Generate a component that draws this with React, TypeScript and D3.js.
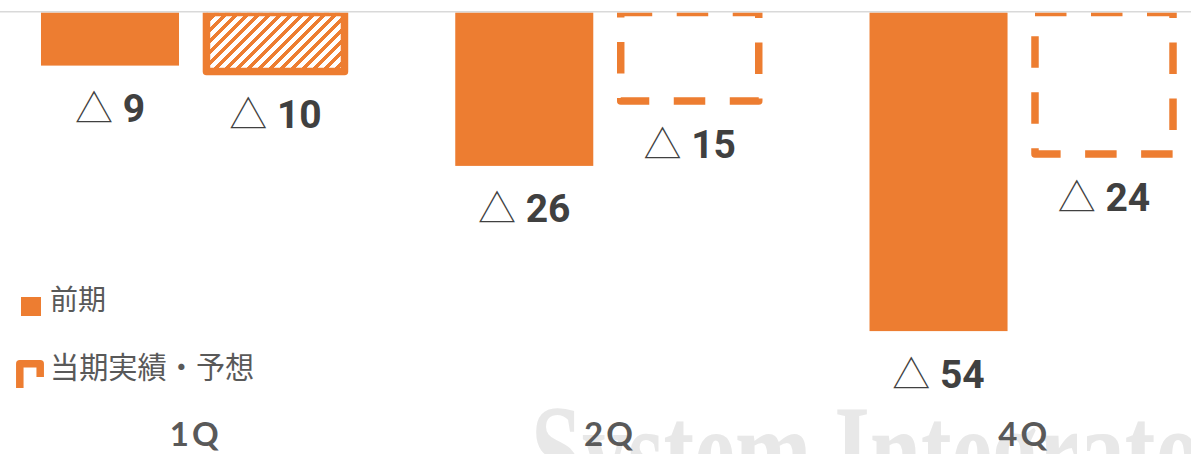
import React from "react";
import * as d3 from "d3";

const categories = ["1Q", "2Q", "4Q"];
const prevValues = [-9, -26, -54];
const currValues = [-10, -15, -24];
const currKinds = ["実績", "予想", "予想"];
const legendLabels = ["前期", "当期実績・予想"];
const watermark = "System Integrator";

const W = 1191;
const H = 454;
const ORANGE = "#ED7D31";
const NUM_COLOR = "#404040";
const TEXT_COLOR = "#595959";

export default function App() {
  const x0 = d3
    .scaleBand<string>()
    .domain(categories)
    .range([-14.4, 1228.4])
    .paddingInner(0.2674)
    .paddingOuter(0.1337);
  const x1 = d3
    .scaleBand<string>()
    .domain(["prev", "curr"])
    .range([0, x0.bandwidth()])
    .paddingInner(0.1659)
    .paddingOuter(0);
  const y = d3.scaleLinear().domain([0, -60]).range([12.5, 12.5 + 5.9 * 60]);
  const bw = x1.bandwidth();

  const label = (cx: number, v: number, key: string) => (
    <text
      key={key}
      x={cx}
      y={y(v) + 56.5}
      textAnchor="middle"
      fill={NUM_COLOR}
    >
      <tspan fontFamily="'Noto Sans CJK JP'" fontWeight={300} fontSize={38}>
        △
      </tspan>
      <tspan fontFamily="Roboto" fontWeight={700} fontSize={39}>
        {" " + Math.abs(v)}
      </tspan>
    </text>
  );

  return (
    <svg
      width={W}
      height={H}
      style={{ position: "absolute", left: 0, top: 0, background: "#fff" }}
    >
      <defs>
        <pattern id="hatch" patternUnits="userSpaceOnUse" width={11} height={11}>
          <rect width={11} height={11} fill="#fff" />
          <polygon points="6.5,0 11,0 0,11 0,6.5" fill={ORANGE} shapeRendering="crispEdges" />
          <polygon points="11,6.5 11,11 6.5,11" fill={ORANGE} shapeRendering="crispEdges" />
        </pattern>
        <clipPath id="plot">
          <rect x={0} y={y(0)} width={W} height={H} />
        </clipPath>
      </defs>

      {/* watermark */}
      <text
        transform={`translate(531,497) scale(0.69,1)`}
        fontFamily="'Liberation Serif'"
        fontWeight={700}
        fontSize={133}
        fill="#e8e8e8"
      >
        {watermark}
      </text>

      {/* previous-year bars */}
      {categories.map((c, i) => (
        <rect
          key={"p" + c}
          x={x0(c)! + x1("prev")!}
          y={y(0)}
          width={bw}
          height={y(prevValues[i]) - y(0)}
          fill={ORANGE}
        />
      ))}

      {/* current-year bars */}
      <g clipPath="url(#plot)">
        {categories.map((c, i) => (
          <rect
            key={"c" + c}
            x={x0(c)! + x1("curr")!}
            y={y(0)}
            width={bw}
            height={y(currValues[i]) - y(0)}
            fill={currKinds[i] === "実績" ? "url(#hatch)" : "none"}
            stroke={ORANGE}
            strokeWidth={7.5}
            strokeLinejoin="round"
            strokeDasharray={currKinds[i] === "実績" ? undefined : "31.5 24.5"}
          />
        ))}
      </g>

      {/* zero line */}
      <line x1={0} x2={W} y1={11.7} y2={11.7} stroke="#d9d9d9" strokeWidth={1.4} />

      {/* value labels */}
      {categories.map((c, i) =>
        label(x0(c)! + x1("prev")! + bw / 2, prevValues[i], "lp" + c)
      )}
      {categories.map((c, i) =>
        label(x0(c)! + x1("curr")! + bw / 2, currValues[i], "lc" + c)
      )}

      {/* category labels */}
      {categories.map((c) => (
        <text
          key={"cat" + c}
          x={x0(c)! + x0.bandwidth() / 2 + 3}
          y={446}
          textAnchor="middle"
          fontFamily="Lato"
          fontWeight={700}
          fontSize={33}
          letterSpacing={3}
          fill={TEXT_COLOR}
        >
          {c}
        </text>
      ))}

      {/* legend */}
      <rect x={21} y={297} width={20} height={19} fill={ORANGE} />
      <text x={50} y={310} fontFamily="'Noto Sans CJK JP'" fontSize={28} fill={TEXT_COLOR}>
        {legendLabels[0]}
      </text>
      <path
        d="M19.8,388 V363.8 H40.2 V377"
        fill="none"
        stroke={ORANGE}
        strokeWidth={7.5}
        strokeLinejoin="round"
      />
      <text x={50} y={378} fontFamily="'Noto Sans CJK JP'" fontSize={29.2} fill={TEXT_COLOR}>
        {legendLabels[1]}
      </text>
    </svg>
  );
}
